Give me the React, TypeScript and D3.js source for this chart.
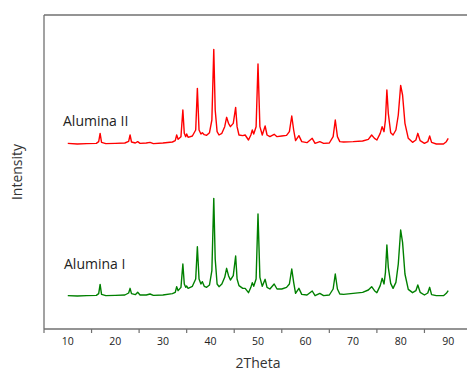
import React from "react";
import * as d3 from "d3";

// 2θ positions (degrees) shared by both patterns
const twoTheta: number[] = [
  10, 12, 14, 16, 16.5, 16.8, 17.1, 18, 20, 22, 22.8, 23.1, 23.4, 24.2, 24.7, 25.2,
  26.5, 27.3, 28, 30, 32, 32.6, 32.9, 33.2, 33.8, 34.2, 34.5, 34.8, 35.0, 35.3, 36.2,
  36.9, 37.25, 37.6, 38.0, 38.3, 38.7, 39.2, 39.8, 40.3, 40.7, 41.0, 41.4, 41.8, 42.4,
  43.0, 43.4, 43.8, 44.2, 44.8, 45.3, 45.6, 46.0, 46.8, 47.3, 48.0, 48.5, 48.8, 49.1,
  49.6, 50.0, 50.4, 50.9, 51.5, 51.9, 52.5, 53.4, 54.0, 55.0, 56.0, 56.6, 57.1, 57.5,
  57.9, 58.6, 59.2, 60.3, 61.4, 62.0, 63.0, 63.8, 65.0, 65.8, 66.25, 66.7, 67.2, 68,
  70, 72, 73.2, 73.9, 74.5, 75.0, 75.7, 76.1, 76.5, 76.8, 77.1, 77.4, 77.9, 78.4, 79.0,
  79.5, 80.0, 80.4, 80.9, 81.6, 82.5, 83.2, 83.6, 84.1, 85.0, 85.7, 86.1, 86.5, 87.5,
  89.0, 89.6, 90.0,
];

// Alumina II intensities (a.u.)
const aluminaII: number[] = [
  100, 98, 99, 100, 105, 130, 103, 99, 100, 101, 106, 125, 104, 101, 105, 100,
  101, 103, 99, 101, 104, 108, 125, 112, 120, 200, 130, 120, 128, 118, 122,
  140, 265, 140, 128, 132, 126, 124, 132, 170, 382, 200, 135, 125, 130,
  150, 178, 160, 150, 160, 208, 150, 125, 123, 125, 110, 125, 140, 128,
  150, 338, 150, 125, 152, 125, 120, 127, 120, 122, 124, 135, 182, 140,
  108, 123, 105, 102, 115, 100, 105, 100, 101, 120, 170, 120, 105, 104,
  105, 107, 112, 125, 115, 110, 130, 150, 135, 170, 260, 190, 132, 125, 140,
  185, 274, 245, 160, 115, 103, 110, 130, 108, 100, 105, 122, 103, 98,
  98, 105, 115,
];

// Alumina I intensities (a.u.)
const aluminaI: number[] = [
  100, 99, 100, 101, 106, 134, 104, 100, 101, 102, 108, 122, 106, 103, 110, 102,
  102, 105, 101, 102, 106, 110, 127, 115, 125, 195, 135, 125, 129, 122, 128,
  150, 247, 150, 135, 142, 128, 125, 132, 175, 392, 210, 135, 127, 135,
  155, 182, 160, 147, 160, 219, 150, 130, 122, 122, 109, 125, 139, 128,
  150, 345, 155, 128, 149, 125, 120, 135, 120, 120, 125, 135, 180, 140,
  107, 122, 104, 102, 114, 100, 107, 100, 102, 120, 165, 120, 105, 104,
  107, 110, 117, 127, 115, 109, 130, 152, 135, 170, 252, 185, 137, 122, 140,
  195, 297, 260, 165, 119, 109, 115, 132, 110, 102, 108, 125, 103, 100,
  100, 107, 115,
];

const xTickLabels: number[] = [10, 20, 30, 40, 50, 60, 70, 80, 90];
const xTickMarks: number[] = [5, 15, 25, 35, 45, 55, 65, 75, 85, 95];
const offsetII = 457;

const W = 467;
const H = 373;
const left = 44;
const top = 15;
const bottom = 329;
const font = "'Open Sans', 'Liberation Sans', sans-serif";

export default function App() {
  const x = d3.scaleLinear().domain([5, 95]).range([left, 472]);
  const y = d3.scaleLinear().domain([0, 942]).range([bottom, top]);

  const lineI = d3
    .line<number>()
    .x((_, i) => x(twoTheta[i]))
    .y((v) => y(v));
  const lineII = d3
    .line<number>()
    .x((_, i) => x(twoTheta[i]))
    .y((v) => y(v + offsetII));

  const axisColor = "#707070";

  return (
    <svg
      width={W}
      height={H}
      style={{ position: "absolute", left: 0, top: 0, background: "#fff" }}
    >
      <rect x={0} y={0} width={W} height={H} fill="#fff" />
      {/* frame */}
      <line x1={left} y1={top} x2={W} y2={top} stroke={axisColor} strokeWidth={1.3} />
      <line x1={left} y1={top} x2={left} y2={bottom} stroke={axisColor} strokeWidth={1.3} />
      <line x1={left} y1={bottom} x2={W} y2={bottom} stroke={axisColor} strokeWidth={1.3} />
      {xTickMarks.map((t) => (
        <line
          key={t}
          x1={x(t)}
          x2={x(t)}
          y1={bottom}
          y2={bottom + 4}
          stroke={axisColor}
          strokeWidth={1.2}
        />
      ))}
      {xTickLabels.map((t) => (
        <text
          key={t}
          x={x(t)}
          y={344.5}
          textAnchor="middle"
          fontFamily={font}
          fontSize={10.5}
          fill="#222"
        >
          {t}
        </text>
      ))}
      <text x={258} y={368} textAnchor="middle" fontFamily={font} fontSize={14} fill="#333">
        2Theta
      </text>
      <text
        transform={`translate(22,172) rotate(-90)`}
        textAnchor="middle"
        fontFamily={font}
        fontSize={14}
        fill="#333"
      >
        Intensity
      </text>

      <path d={lineII(aluminaII) || ""} fill="none" stroke="#ff0000" strokeWidth={1.4} strokeLinejoin="round" />
      <path d={lineI(aluminaI) || ""} fill="none" stroke="#008000" strokeWidth={1.4} strokeLinejoin="round" />

      <text x={63} y={126} fontFamily={font} fontSize={14} fill="#222">
        Alumina II
      </text>
      <text x={64} y={269} fontFamily={font} fontSize={14} fill="#222">
        Alumina I
      </text>
    </svg>
  );
}
